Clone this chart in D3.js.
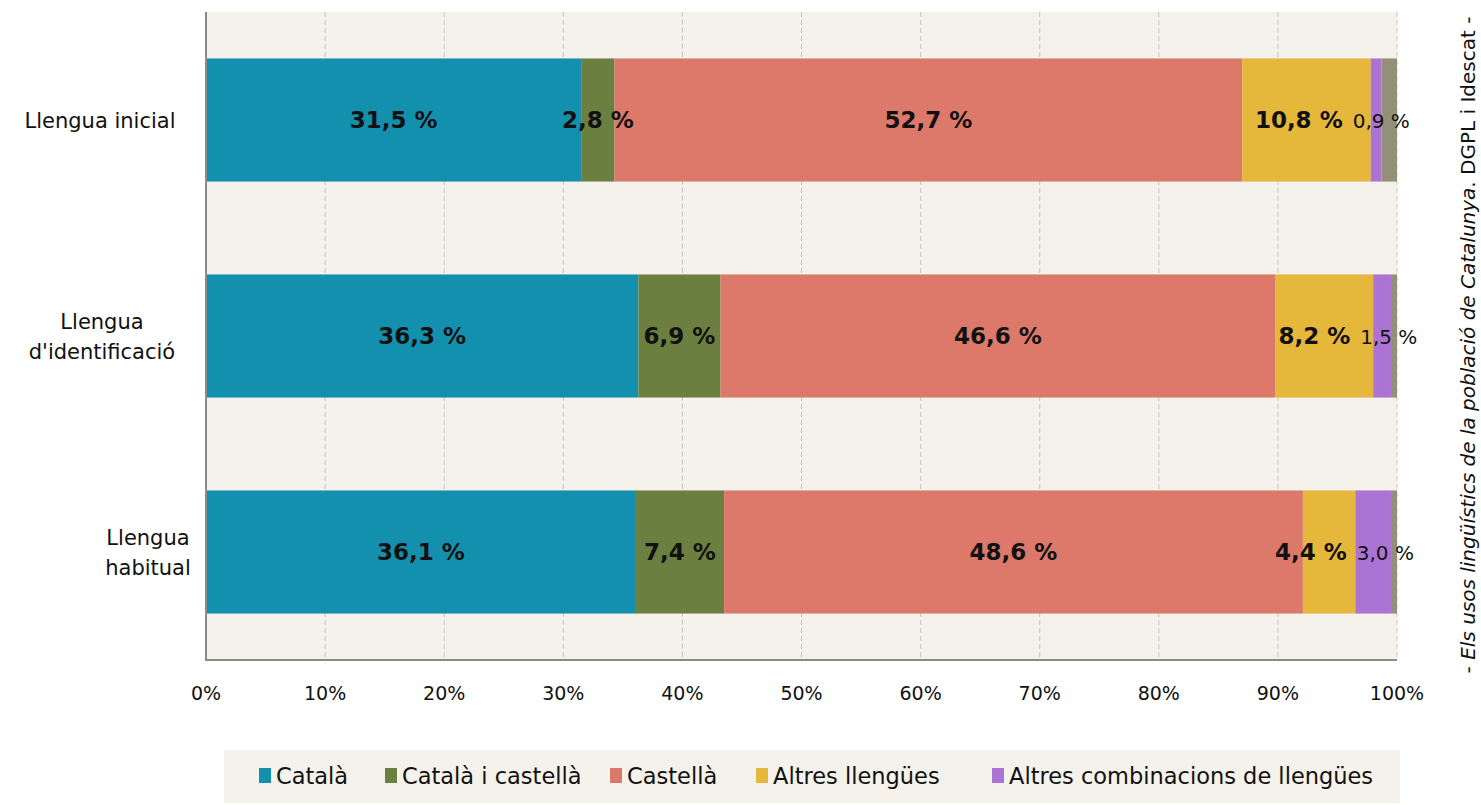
<!DOCTYPE html>
<html>
<head>
<meta charset="utf-8">
<script src="https://cdn.jsdelivr.net/npm/d3@7"></script>
<style>
  body { margin: 0; background: #fff; }
  svg text { font-family: "DejaVu Sans", sans-serif; }
</style>
</head>
<body>
<svg id="chart" width="1481" height="805"></svg>
<script>
// data
var categories = ["Llengua inicial", "Llengua d'identificació", "Llengua habitual"];
var series = ["Català", "Català i castellà", "Castellà", "Altres llengües", "Altres combinacions de llengües", "Altres"];
var catala        = [31.5, 36.3, 36.1];
var catalaCastell = [2.8, 6.9, 7.4];
var castella      = [52.7, 46.6, 48.6];
var altres        = [10.8, 8.2, 4.4];
var combinacions  = [0.9, 1.5, 3.0];
var resta         = [1.3, 0.5, 0.5];
var ticks = [0, 10, 20, 30, 40, 50, 60, 70, 80, 90, 100];
var colors = ["#1390ad", "#6b8040", "#dc796a", "#e5b73b", "#ab74d4", "#929178"];

var values = [catala, catalaCastell, castella, altres, combinacions, resta];

var svg = d3.select("#chart"),
    plotL = 206, plotR = 1397, plotT = 12, plotB = 660;

var x = d3.scaleLinear().domain([0, 100]).range([plotL, plotR]);
var y = d3.scaleBand().domain(categories).range([plotT, plotB]).paddingInner(0.43).paddingOuter(0.215);

// background
svg.append("rect").attr("x", plotL).attr("y", plotT).attr("width", plotR - plotL).attr("height", plotB - plotT).attr("fill", "#f5f1eb");

// grid
svg.selectAll("line.grid")
    .data(ticks.slice(1))
    .enter().append("line")
    .attr("x1", function(d){ return x(d); }).attr("x2", function(d){ return x(d); })
    .attr("y1", plotT).attr("y2", plotB)
    .attr("stroke", "#c8c4c0").attr("stroke-dasharray", "5,3").attr("stroke-width", 1);

// stacked data
var rows = categories.map(function(c, i){
    var acc = 0;
    return values.map(function(s, j){
        var d = {cat: c, series: j, v: s[i], x0: acc, x1: acc + s[i]};
        acc += s[i];
        return d;
    });
});

var bars = svg.selectAll("g.row").data(rows).enter().append("g");

bars.selectAll("rect")
    .data(function(d){ return d; })
    .enter().append("rect")
    .attr("x", function(d){ return x(d.x0); })
    .attr("width", function(d){ return x(d.x1) - x(d.x0); })
    .attr("y", function(d){ return y(d.cat); })
    .attr("height", y.bandwidth())
    .attr("fill", function(d){ return colors[d.series]; });

bars.each(function(){
    var labels = d3.select(this).selectAll("text")
        .data(function(d){ return d.filter(function(e){ return e.series < 5; }); })
        .enter().append("text")
        .attr("x", function(d){ return x((d.x0 + d.x1) / 2); })
        .attr("y", function(d){ return y(d.cat) + y.bandwidth() / 2 + 8; })
        .attr("text-anchor", "middle")
        .attr("font-size", function(d){ return d.series == 4 ? 20 : 23; })
        .attr("font-weight", function(d){ return d.series == 4 ? "normal" : "bold"; })
        .attr("fill", "#111")
        .text(function(d){ return d.v.toFixed(1).replace(".", ",") + " %"; });

    // push overlapping labels apart, like the original chart does
    var nodes = labels.nodes();
    for (var k = 1; k < nodes.length; k++) {
        var a = nodes[k - 1], b = nodes[k];
        var ax = +a.getAttribute("x"), bx = +b.getAttribute("x");
        var aw = a.getComputedTextLength(), bw = b.getComputedTextLength();
        var over = (ax + aw / 2) - (bx - bw / 2) + 10;
        if (over > 0) {
            a.setAttribute("x", ax - over * 0.6);
            b.setAttribute("x", bx + over * 0.4);
        }
    }
});

// axes
svg.append("line").attr("x1", plotL).attr("x2", plotL).attr("y1", plotT).attr("y2", plotB + 1)
    .attr("stroke", "#8a8a8a").attr("stroke-width", 2);
svg.append("line").attr("x1", plotL).attr("x2", plotR).attr("y1", plotB).attr("y2", plotB)
    .attr("stroke", "#8a8a8a").attr("stroke-width", 2);

svg.selectAll("text.tick")
    .data(ticks)
    .enter().append("text")
    .attr("x", function(d){ return x(d); })
    .attr("y", 700)
    .attr("text-anchor", "middle")
    .attr("font-size", 19)
    .attr("fill", "#111")
    .text(function(d){ return d + "%"; });

// category labels
var catLines = [["Llengua inicial"], ["Llengua", "d'identificació"], ["Llengua", "habitual"]];
var catX = [100, 102, 148];
categories.forEach(function(c, i){
    var lines = catLines[i];
    var cy = y(c) + y.bandwidth() / 2;
    var t = svg.append("text")
        .attr("text-anchor", "middle")
        .attr("font-size", 21)
        .attr("fill", "#111");
    lines.forEach(function(l, k){
        t.append("tspan")
            .attr("x", catX[i])
            .attr("y", cy + 8 + (k - (lines.length - 1) / 2) * 30)
            .text(l);
    });
});

// legend
svg.append("rect").attr("x", 224).attr("y", 750).attr("width", 1176).attr("height", 53).attr("fill", "#f5f1eb");
var legX = [259, 385, 610, 756, 992];
svg.selectAll("g.leg")
    .data(series.slice(0, 5))
    .enter().append("g")
    .each(function(d, i){
        var g = d3.select(this);
        g.append("rect").attr("x", legX[i]).attr("y", 768).attr("width", 12).attr("height", 15).attr("fill", colors[i]);
        g.append("text").attr("x", legX[i] + 17).attr("y", 784).attr("font-size", 22.5).attr("fill", "#111").text(d);
    });

// source
var src = svg.append("text")
    .attr("transform", "translate(1475,345) rotate(-90)")
    .attr("text-anchor", "middle")
    .attr("font-size", 20)
    .attr("fill", "#111");
src.append("tspan").text("- ");
src.append("tspan").attr("font-style", "italic").text("Els usos lingüístics de la població de Catalunya");
src.append("tspan").text(". DGPL i Idescat -");
</script>
</body>
</html>
